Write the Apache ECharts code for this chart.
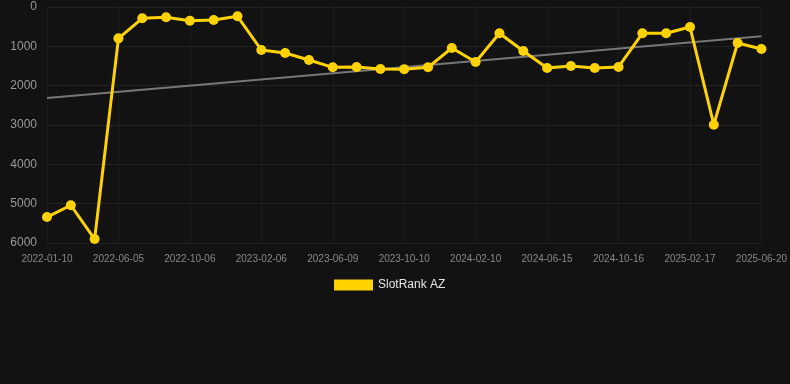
<!DOCTYPE html>
<html>
<head>
<meta charset="utf-8">
<script src="https://cdn.jsdelivr.net/npm/echarts@6/dist/echarts.min.js"></script>
<style>
html,body{margin:0;padding:0;background:#121212;}
#chart{width:790px;height:384px;}
</style>
</head>
<body>
<div id="chart"></div>
<script>
const categories = [
  '2022-01-10','2022-02-28','2022-04-17','2022-06-05','2022-07-16','2022-08-26',
  '2022-10-06','2022-11-16','2022-12-27','2023-02-06','2023-03-20','2023-04-29',
  '2023-06-09','2023-07-20','2023-08-30','2023-10-10','2023-11-20','2023-12-31',
  '2024-02-10','2024-03-22','2024-05-04','2024-06-15','2024-07-26','2024-09-05',
  '2024-10-16','2024-11-26','2025-01-07','2025-02-17','2025-03-30','2025-05-10',
  '2025-06-20'
];
const rankValues = [
  5340, 5040, 5900, 797, 288, 262,
  348, 330, 237, 1093, 1170, 1348,
  1534, 1525, 1576, 1580, 1534, 1042,
  1398, 669, 1119, 1551, 1500, 1551,
  1525, 669, 669, 508, 2992, 915,
  1068
];
const trendStart = 2314;
const trendEnd = 746;
const yTicks = { min: 0, max: 6000, interval: 1000 };

const trendData = categories.map((c, i) => i === 0 ? trendStart : (i === categories.length - 1 ? trendEnd : null));

const chart = echarts.init(document.getElementById('chart'), null, { renderer: 'canvas' });
chart.setOption({
  backgroundColor: '#121212',
  animation: false,
  grid: { left: 47, right: 28, top: 7, bottom: 141 },
  legend: {
    data: ['SlotRank AZ'],
    top: 274,
    left: 329,
    itemWidth: 39,
    itemHeight: 11,
    itemGap: 10,
    icon: 'rect',
    textStyle: { color: '#e6e6e6', fontSize: 12, fontFamily: 'Arial, Liberation Sans, sans-serif' }
  },
  xAxis: {
    type: 'category',
    data: categories,
    boundaryGap: false,
    axisLine: { show: false },
    axisTick: { show: false },
    axisLabel: { interval: 2, color: '#888', fontSize: 10, margin: 11, fontFamily: 'Arial, Liberation Sans, sans-serif' },
    splitLine: { show: true, interval: 2, lineStyle: { color: '#1c1c1c', width: 1 } }
  },
  yAxis: {
    type: 'value',
    inverse: true,
    min: yTicks.min,
    max: yTicks.max,
    interval: yTicks.interval,
    axisLine: { show: false },
    axisTick: { show: false },
    axisLabel: { color: '#999', fontSize: 12, margin: 10, formatter: v => String(v), fontFamily: 'Arial, Liberation Sans, sans-serif' },
    splitLine: { lineStyle: { color: '#232323', width: 1 } }
  },
  series: [
    {
      name: 'Trend',
      type: 'line',
      data: trendData,
      connectNulls: true,
      symbol: 'none',
      lineStyle: { color: '#777', width: 2 },
      z: 1
    },
    {
      name: 'SlotRank AZ',
      type: 'line',
      data: rankValues,
      symbol: 'circle',
      symbolSize: 10,
      itemStyle: { color: '#ffd200' },
      lineStyle: { color: '#ffd200', width: 3 },
      z: 3
    }
  ]
});
</script>
</body>
</html>
